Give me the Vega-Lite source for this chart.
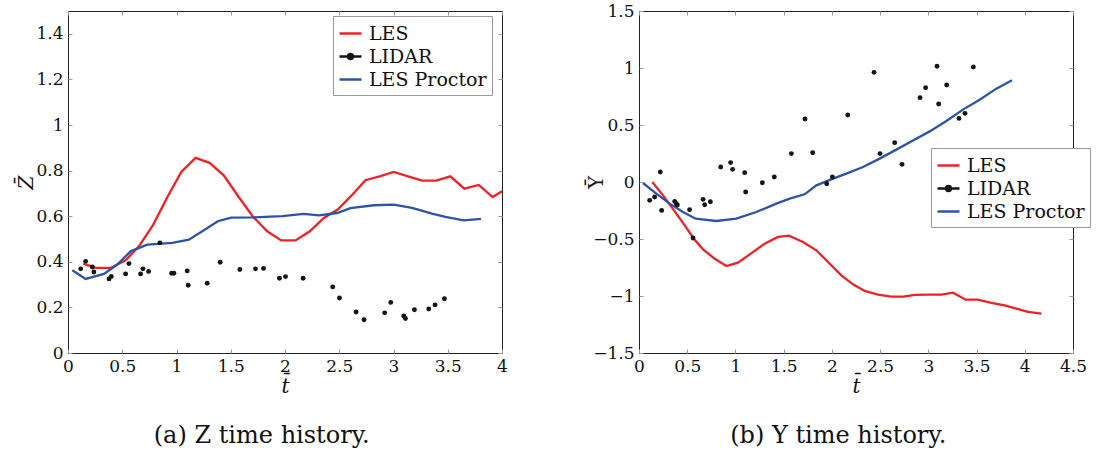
{
  "$schema": "https://vega.github.io/schema/vega-lite/v6.json",
  "padding": {"left": 15, "top": 1, "right": 0, "bottom": 0},
  "resolve": {"scale": {"color": "independent"}, "legend": {"color": "independent"}},
  "datasets": {
    "z": [
      {"series":"LES","t":0.141,"v":0.392},{"series":"LES","t":0.255,"v":0.373},{"series":"LES","t":0.393,"v":0.373},{"series":"LES","t":0.531,"v":0.407},{"series":"LES","t":0.654,"v":0.468},{"series":"LES","t":0.786,"v":0.563},{"series":"LES","t":0.915,"v":0.683},{"series":"LES","t":1.044,"v":0.794},{"series":"LES","t":1.176,"v":0.856},{"series":"LES","t":1.305,"v":0.834},{"series":"LES","t":1.437,"v":0.778},{"series":"LES","t":1.575,"v":0.683},{"series":"LES","t":1.707,"v":0.597},{"series":"LES","t":1.836,"v":0.534},{"series":"LES","t":1.965,"v":0.494},{"series":"LES","t":2.097,"v":0.494},{"series":"LES","t":2.229,"v":0.534},{"series":"LES","t":2.358,"v":0.592},{"series":"LES","t":2.486,"v":0.629},{"series":"LES","t":2.612,"v":0.69},{"series":"LES","t":2.741,"v":0.758},{"series":"LES","t":2.873,"v":0.775},{"series":"LES","t":3.002,"v":0.794},{"series":"LES","t":3.134,"v":0.775},{"series":"LES","t":3.263,"v":0.756},{"series":"LES","t":3.395,"v":0.756},{"series":"LES","t":3.524,"v":0.775},{"series":"LES","t":3.653,"v":0.721},{"series":"LES","t":3.785,"v":0.737},{"series":"LES","t":3.914,"v":0.684},{"series":"LES","t":4.0,"v":0.709},
      {"series":"LES Proctor","t":0.04,"v":0.363},{"series":"LES Proctor","t":0.163,"v":0.325},{"series":"LES Proctor","t":0.332,"v":0.347},{"series":"LES Proctor","t":0.454,"v":0.388},{"series":"LES Proctor","t":0.577,"v":0.446},{"series":"LES Proctor","t":0.731,"v":0.475},{"series":"LES Proctor","t":0.961,"v":0.483},{"series":"LES Proctor","t":1.114,"v":0.497},{"series":"LES Proctor","t":1.252,"v":0.538},{"series":"LES Proctor","t":1.381,"v":0.578},{"series":"LES Proctor","t":1.504,"v":0.594},{"series":"LES Proctor","t":1.713,"v":0.595},{"series":"LES Proctor","t":1.974,"v":0.6},{"series":"LES Proctor","t":2.173,"v":0.61},{"series":"LES Proctor","t":2.312,"v":0.604},{"series":"LES Proctor","t":2.48,"v":0.614},{"series":"LES Proctor","t":2.603,"v":0.635},{"series":"LES Proctor","t":2.818,"v":0.648},{"series":"LES Proctor","t":3.002,"v":0.651},{"series":"LES Proctor","t":3.171,"v":0.636},{"series":"LES Proctor","t":3.355,"v":0.611},{"series":"LES Proctor","t":3.478,"v":0.597},{"series":"LES Proctor","t":3.647,"v":0.582},{"series":"LES Proctor","t":3.807,"v":0.588},
      {"series":"LIDAR","t":0.117,"v":0.369},{"series":"LIDAR","t":0.163,"v":0.402},{"series":"LIDAR","t":0.224,"v":0.377},{"series":"LIDAR","t":0.239,"v":0.355},{"series":"LIDAR","t":0.378,"v":0.325},{"series":"LIDAR","t":0.399,"v":0.336},{"series":"LIDAR","t":0.531,"v":0.347},{"series":"LIDAR","t":0.562,"v":0.392},{"series":"LIDAR","t":0.669,"v":0.347},{"series":"LIDAR","t":0.691,"v":0.369},{"series":"LIDAR","t":0.743,"v":0.358},{"series":"LIDAR","t":0.847,"v":0.483},{"series":"LIDAR","t":0.955,"v":0.35},{"series":"LIDAR","t":0.976,"v":0.35},{"series":"LIDAR","t":1.099,"v":0.36},{"series":"LIDAR","t":1.108,"v":0.297},{"series":"LIDAR","t":1.283,"v":0.306},{"series":"LIDAR","t":1.403,"v":0.398},{"series":"LIDAR","t":1.584,"v":0.366},{"series":"LIDAR","t":1.728,"v":0.369},{"series":"LIDAR","t":1.802,"v":0.371},{"series":"LIDAR","t":1.949,"v":0.328},{"series":"LIDAR","t":2.005,"v":0.335},{"series":"LIDAR","t":2.167,"v":0.328},{"series":"LIDAR","t":2.44,"v":0.29},{"series":"LIDAR","t":2.502,"v":0.241},{"series":"LIDAR","t":2.655,"v":0.18},{"series":"LIDAR","t":2.729,"v":0.146},{"series":"LIDAR","t":2.919,"v":0.176},{"series":"LIDAR","t":2.975,"v":0.222},{"series":"LIDAR","t":3.094,"v":0.162},{"series":"LIDAR","t":3.11,"v":0.151},{"series":"LIDAR","t":3.193,"v":0.19},{"series":"LIDAR","t":3.325,"v":0.193},{"series":"LIDAR","t":3.383,"v":0.211},{"series":"LIDAR","t":3.469,"v":0.238}
    ],
    "y": [
      {"series":"LES","t":0.138,"v":0.0},{"series":"LES","t":0.249,"v":-0.117},{"series":"LES","t":0.363,"v":-0.249},{"series":"LES","t":0.474,"v":-0.38},{"series":"LES","t":0.577,"v":-0.506},{"series":"LES","t":0.664,"v":-0.591},{"series":"LES","t":0.785,"v":-0.673},{"series":"LES","t":0.906,"v":-0.737},{"series":"LES","t":1.026,"v":-0.708},{"series":"LES","t":1.148,"v":-0.635},{"series":"LES","t":1.303,"v":-0.541},{"series":"LES","t":1.441,"v":-0.482},{"series":"LES","t":1.555,"v":-0.471},{"series":"LES","t":1.7,"v":-0.526},{"series":"LES","t":1.839,"v":-0.599},{"series":"LES","t":1.96,"v":-0.702},{"series":"LES","t":2.098,"v":-0.819},{"series":"LES","t":2.219,"v":-0.898},{"series":"LES","t":2.34,"v":-0.956},{"series":"LES","t":2.478,"v":-0.988},{"series":"LES","t":2.616,"v":-1.006},{"series":"LES","t":2.744,"v":-1.006},{"series":"LES","t":2.858,"v":-0.991},{"series":"LES","t":2.997,"v":-0.988},{"series":"LES","t":3.135,"v":-0.988},{"series":"LES","t":3.256,"v":-0.971},{"series":"LES","t":3.387,"v":-1.032},{"series":"LES","t":3.515,"v":-1.032},{"series":"LES","t":3.653,"v":-1.061},{"series":"LES","t":3.791,"v":-1.082},{"series":"LES","t":3.912,"v":-1.111},{"series":"LES","t":4.033,"v":-1.14},{"series":"LES","t":4.172,"v":-1.155},
      {"series":"LES Proctor","t":0.041,"v":-0.009},{"series":"LES Proctor","t":0.18,"v":-0.102},{"series":"LES Proctor","t":0.318,"v":-0.19},{"series":"LES Proctor","t":0.456,"v":-0.263},{"series":"LES Proctor","t":0.588,"v":-0.322},{"series":"LES Proctor","t":0.802,"v":-0.342},{"series":"LES Proctor","t":1.009,"v":-0.322},{"series":"LES Proctor","t":1.217,"v":-0.263},{"series":"LES Proctor","t":1.424,"v":-0.19},{"series":"LES Proctor","t":1.562,"v":-0.146},{"series":"LES Proctor","t":1.718,"v":-0.108},{"series":"LES Proctor","t":1.839,"v":-0.029},{"series":"LES Proctor","t":2.012,"v":0.029},{"series":"LES Proctor","t":2.15,"v":0.073},{"series":"LES Proctor","t":2.323,"v":0.132},{"series":"LES Proctor","t":2.495,"v":0.205},{"series":"LES Proctor","t":2.668,"v":0.284},{"series":"LES Proctor","t":2.841,"v":0.365},{"series":"LES Proctor","t":3.014,"v":0.444},{"series":"LES Proctor","t":3.187,"v":0.535},{"series":"LES Proctor","t":3.359,"v":0.635},{"series":"LES Proctor","t":3.532,"v":0.722},{"series":"LES Proctor","t":3.705,"v":0.819},{"series":"LES Proctor","t":3.868,"v":0.892},
      {"series":"LIDAR","t":0.111,"v":-0.161},{"series":"LIDAR","t":0.162,"v":-0.132},{"series":"LIDAR","t":0.221,"v":0.088},{"series":"LIDAR","t":0.235,"v":-0.249},{"series":"LIDAR","t":0.37,"v":-0.17},{"series":"LIDAR","t":0.387,"v":-0.19},{"series":"LIDAR","t":0.397,"v":-0.202},{"series":"LIDAR","t":0.525,"v":-0.243},{"series":"LIDAR","t":0.56,"v":-0.491},{"series":"LIDAR","t":0.664,"v":-0.152},{"series":"LIDAR","t":0.681,"v":-0.199},{"series":"LIDAR","t":0.74,"v":-0.173},{"series":"LIDAR","t":0.847,"v":0.132},{"series":"LIDAR","t":0.95,"v":0.17},{"series":"LIDAR","t":0.971,"v":0.111},{"series":"LIDAR","t":1.096,"v":0.082},{"series":"LIDAR","t":1.106,"v":-0.088},{"series":"LIDAR","t":1.279,"v":-0.006},{"series":"LIDAR","t":1.403,"v":0.044},{"series":"LIDAR","t":1.58,"v":0.249},{"series":"LIDAR","t":1.721,"v":0.553},{"series":"LIDAR","t":1.801,"v":0.257},{"series":"LIDAR","t":1.946,"v":-0.015},{"series":"LIDAR","t":2.005,"v":0.044},{"series":"LIDAR","t":2.164,"v":0.588},{"series":"LIDAR","t":2.437,"v":0.962},{"series":"LIDAR","t":2.499,"v":0.249},{"series":"LIDAR","t":2.651,"v":0.345},{"series":"LIDAR","t":2.727,"v":0.155},{"series":"LIDAR","t":2.914,"v":0.74},{"series":"LIDAR","t":2.972,"v":0.827},{"series":"LIDAR","t":3.09,"v":1.015},{"series":"LIDAR","t":3.107,"v":0.684},{"series":"LIDAR","t":3.19,"v":0.851},{"series":"LIDAR","t":3.318,"v":0.558},{"series":"LIDAR","t":3.38,"v":0.602},{"series":"LIDAR","t":3.467,"v":1.009}
    ]
  },
  "spacing": 77,
  "hconcat": [
    {
      "width": 434, "height": 342,
      "view": {"stroke": "#222", "strokeWidth": 1},
      "data": {"name": "z"},
      "title": {"text": "(a) Z time history.", "orient": "bottom", "frame": "bounds", "anchor": "middle", "offset": 28, "font": "DejaVu Serif", "fontSize": 24, "fontWeight": "normal", "color": "#111"},
      "resolve": {"axis": {"x": "independent", "y": "independent"}},
      "layer": [
        {
          "transform": [{"filter": "datum.series !== 'LIDAR'"}],
          "mark": {"type": "line", "strokeWidth": 2.3},
          "encoding": {
            "x": {"field": "t", "type": "quantitative", "scale": {"domain": [0, 4], "nice": false, "zero": false}, "axis": {"title": "t\u0304", "titleFontStyle": "italic", "values": [0,0.5,1,1.5,2,2.5,3,3.5,4], "format": "~g", "titlePadding": 2, "labelFont": "DejaVu Serif", "titleFont": "DejaVu Serif", "labelFontSize": 17, "titleFontSize": 20, "titleFontWeight": "normal", "labelColor": "#111", "titleColor": "#111", "tickColor": "#999", "tickSize": -4, "labelPadding": 9, "domain": false, "grid": false, "labelFlush": false, "labelOverlap": false}},
            "y": {"field": "v", "type": "quantitative", "scale": {"domain": [0, 1.5], "nice": false, "zero": false}, "axis": {"title": "Z\u0304", "titleFontStyle": "italic", "values": [0,0.2,0.4,0.6,0.8,1,1.2,1.4], "format": "~g", "titleX": -42, "titleY": 171, "titleBaseline": "middle", "labelFont": "DejaVu Serif", "titleFont": "DejaVu Serif", "labelFontSize": 17, "titleFontSize": 20, "titleFontWeight": "normal", "labelColor": "#111", "titleColor": "#111", "tickColor": "#999", "tickSize": -4, "labelPadding": 9, "domain": false, "grid": false, "labelOverlap": false}},
            "color": {"field": "series", "type": "nominal", "scale": {"domain": ["LES", "LIDAR", "LES Proctor"], "range": ["#ec2227", "#151515", "#2c54a6"]},
              "legend": {"title": null, "orient": "none", "legendX": 265, "legendY": 5, "labelFont": "DejaVu Serif", "labelFontSize": 19, "labelColor": "#111", "strokeColor": "#999", "fillColor": "white", "padding": 5, "symbolSize": 484, "labelOffset": 6, "rowPadding": -2,
                "encode": {"symbols": {"update": {
                  "shape": {"signal": "datum.value === 'LIDAR' ? 'M-1,0H1M-0.22,0A0.22,0.22 0 1,0 0.22,0A0.22,0.22 0 1,0 -0.22,0' : 'stroke'"},
                  "fill": {"signal": "datum.value === 'LIDAR' ? '#151515' : 'transparent'"},
                  "stroke": {"signal": "datum.value === 'LIDAR' ? '#151515' : (datum.value === 'LES' ? '#ec2227' : '#2c54a6')"},
                  "strokeWidth": {"value": 2.5}}}}}},
            "detail": {"field": "series"}
          }
        },
        {
          "transform": [{"filter": "datum.series === 'LIDAR'"}],
          "mark": {"type": "circle", "size": 24, "opacity": 1},
          "encoding": {
            "x": {"field": "t", "type": "quantitative", "axis": {"orient": "top", "labels": false, "title": null, "values": [0,0.5,1,1.5,2,2.5,3,3.5,4], "tickColor": "#999", "tickSize": -4, "domain": false, "grid": false}},
            "y": {"field": "v", "type": "quantitative", "axis": {"orient": "right", "labels": false, "title": null, "values": [0,0.2,0.4,0.6,0.8,1,1.2,1.4], "tickColor": "#999", "tickSize": -4, "domain": false, "grid": false}},
            "color": {"field": "series", "type": "nominal",
              "legend": {"title": null, "orient": "none", "legendX": 265, "legendY": 5, "labelFont": "DejaVu Serif", "labelFontSize": 19, "labelColor": "#111", "strokeColor": "#999", "fillColor": "white", "padding": 5, "symbolSize": 484, "labelOffset": 6, "rowPadding": -2,
                "encode": {"symbols": {"update": {
                  "shape": {"signal": "datum.value === 'LIDAR' ? 'M-1,0H1M-0.22,0A0.22,0.22 0 1,0 0.22,0A0.22,0.22 0 1,0 -0.22,0' : 'stroke'"},
                  "fill": {"signal": "datum.value === 'LIDAR' ? '#151515' : 'transparent'"},
                  "stroke": {"signal": "datum.value === 'LIDAR' ? '#151515' : (datum.value === 'LES' ? '#ec2227' : '#2c54a6')"},
                  "strokeWidth": {"value": 2.5}}}}}}
          }
        }
      ]
    },
    {
      "width": 434, "height": 342,
      "view": {"stroke": "#222", "strokeWidth": 1},
      "data": {"name": "y"},
      "title": {"text": "(b) Y time history.", "orient": "bottom", "frame": "bounds", "anchor": "middle", "offset": 28, "font": "DejaVu Serif", "fontSize": 24, "fontWeight": "normal", "color": "#111"},
      "resolve": {"axis": {"x": "independent", "y": "independent"}},
      "layer": [
        {
          "transform": [{"filter": "datum.series !== 'LIDAR'"}],
          "mark": {"type": "line", "strokeWidth": 2.3},
          "encoding": {
            "x": {"field": "t", "type": "quantitative", "scale": {"domain": [0, 4.5], "nice": false, "zero": false}, "axis": {"title": "t\u0304", "titleFontStyle": "italic", "values": [0,0.5,1,1.5,2,2.5,3,3.5,4,4.5], "format": "~g", "titlePadding": 2, "labelFont": "DejaVu Serif", "titleFont": "DejaVu Serif", "labelFontSize": 17, "titleFontSize": 20, "titleFontWeight": "normal", "labelColor": "#111", "titleColor": "#111", "tickColor": "#999", "tickSize": -4, "labelPadding": 9, "domain": false, "grid": false, "labelFlush": false, "labelOverlap": false}},
            "y": {"field": "v", "type": "quantitative", "scale": {"domain": [-1.5, 1.5], "nice": false, "zero": false}, "axis": {"title": "Y\u0304", "values": [-1.5,-1,-0.5,0,0.5,1,1.5], "format": "~g", "titleX": -43, "titleY": 171, "titleBaseline": "middle", "labelFont": "DejaVu Serif", "titleFont": "DejaVu Serif", "labelFontSize": 17, "titleFontSize": 20, "titleFontWeight": "normal", "labelColor": "#111", "titleColor": "#111", "tickColor": "#999", "tickSize": -4, "labelPadding": 9, "domain": false, "grid": false, "labelOverlap": false}},
            "color": {"field": "series", "type": "nominal", "scale": {"domain": ["LES", "LIDAR", "LES Proctor"], "range": ["#ec2227", "#151515", "#2c54a6"]},
              "legend": {"title": null, "orient": "none", "legendX": 292, "legendY": 137, "labelFont": "DejaVu Serif", "labelFontSize": 19, "labelColor": "#111", "strokeColor": "#999", "fillColor": "white", "padding": 5, "symbolSize": 484, "labelOffset": 6, "rowPadding": -2,
                "encode": {"symbols": {"update": {
                  "shape": {"signal": "datum.value === 'LIDAR' ? 'M-1,0H1M-0.22,0A0.22,0.22 0 1,0 0.22,0A0.22,0.22 0 1,0 -0.22,0' : 'stroke'"},
                  "fill": {"signal": "datum.value === 'LIDAR' ? '#151515' : 'transparent'"},
                  "stroke": {"signal": "datum.value === 'LIDAR' ? '#151515' : (datum.value === 'LES' ? '#ec2227' : '#2c54a6')"},
                  "strokeWidth": {"value": 2.5}}}}}},
            "detail": {"field": "series"}
          }
        },
        {
          "transform": [{"filter": "datum.series === 'LIDAR'"}],
          "mark": {"type": "circle", "size": 24, "opacity": 1},
          "encoding": {
            "x": {"field": "t", "type": "quantitative", "axis": {"orient": "top", "labels": false, "title": null, "values": [0,0.5,1,1.5,2,2.5,3,3.5,4,4.5], "tickColor": "#999", "tickSize": -4, "domain": false, "grid": false}},
            "y": {"field": "v", "type": "quantitative", "axis": {"orient": "right", "labels": false, "title": null, "values": [-1.5,-1,-0.5,0,0.5,1,1.5], "tickColor": "#999", "tickSize": -4, "domain": false, "grid": false}},
            "color": {"field": "series", "type": "nominal",
              "legend": {"title": null, "orient": "none", "legendX": 292, "legendY": 137, "labelFont": "DejaVu Serif", "labelFontSize": 19, "labelColor": "#111", "strokeColor": "#999", "fillColor": "white", "padding": 5, "symbolSize": 484, "labelOffset": 6, "rowPadding": -2,
                "encode": {"symbols": {"update": {
                  "shape": {"signal": "datum.value === 'LIDAR' ? 'M-1,0H1M-0.22,0A0.22,0.22 0 1,0 0.22,0A0.22,0.22 0 1,0 -0.22,0' : 'stroke'"},
                  "fill": {"signal": "datum.value === 'LIDAR' ? '#151515' : 'transparent'"},
                  "stroke": {"signal": "datum.value === 'LIDAR' ? '#151515' : (datum.value === 'LES' ? '#ec2227' : '#2c54a6')"},
                  "strokeWidth": {"value": 2.5}}}}}}
          }
        }
      ]
    }
  ]
}
